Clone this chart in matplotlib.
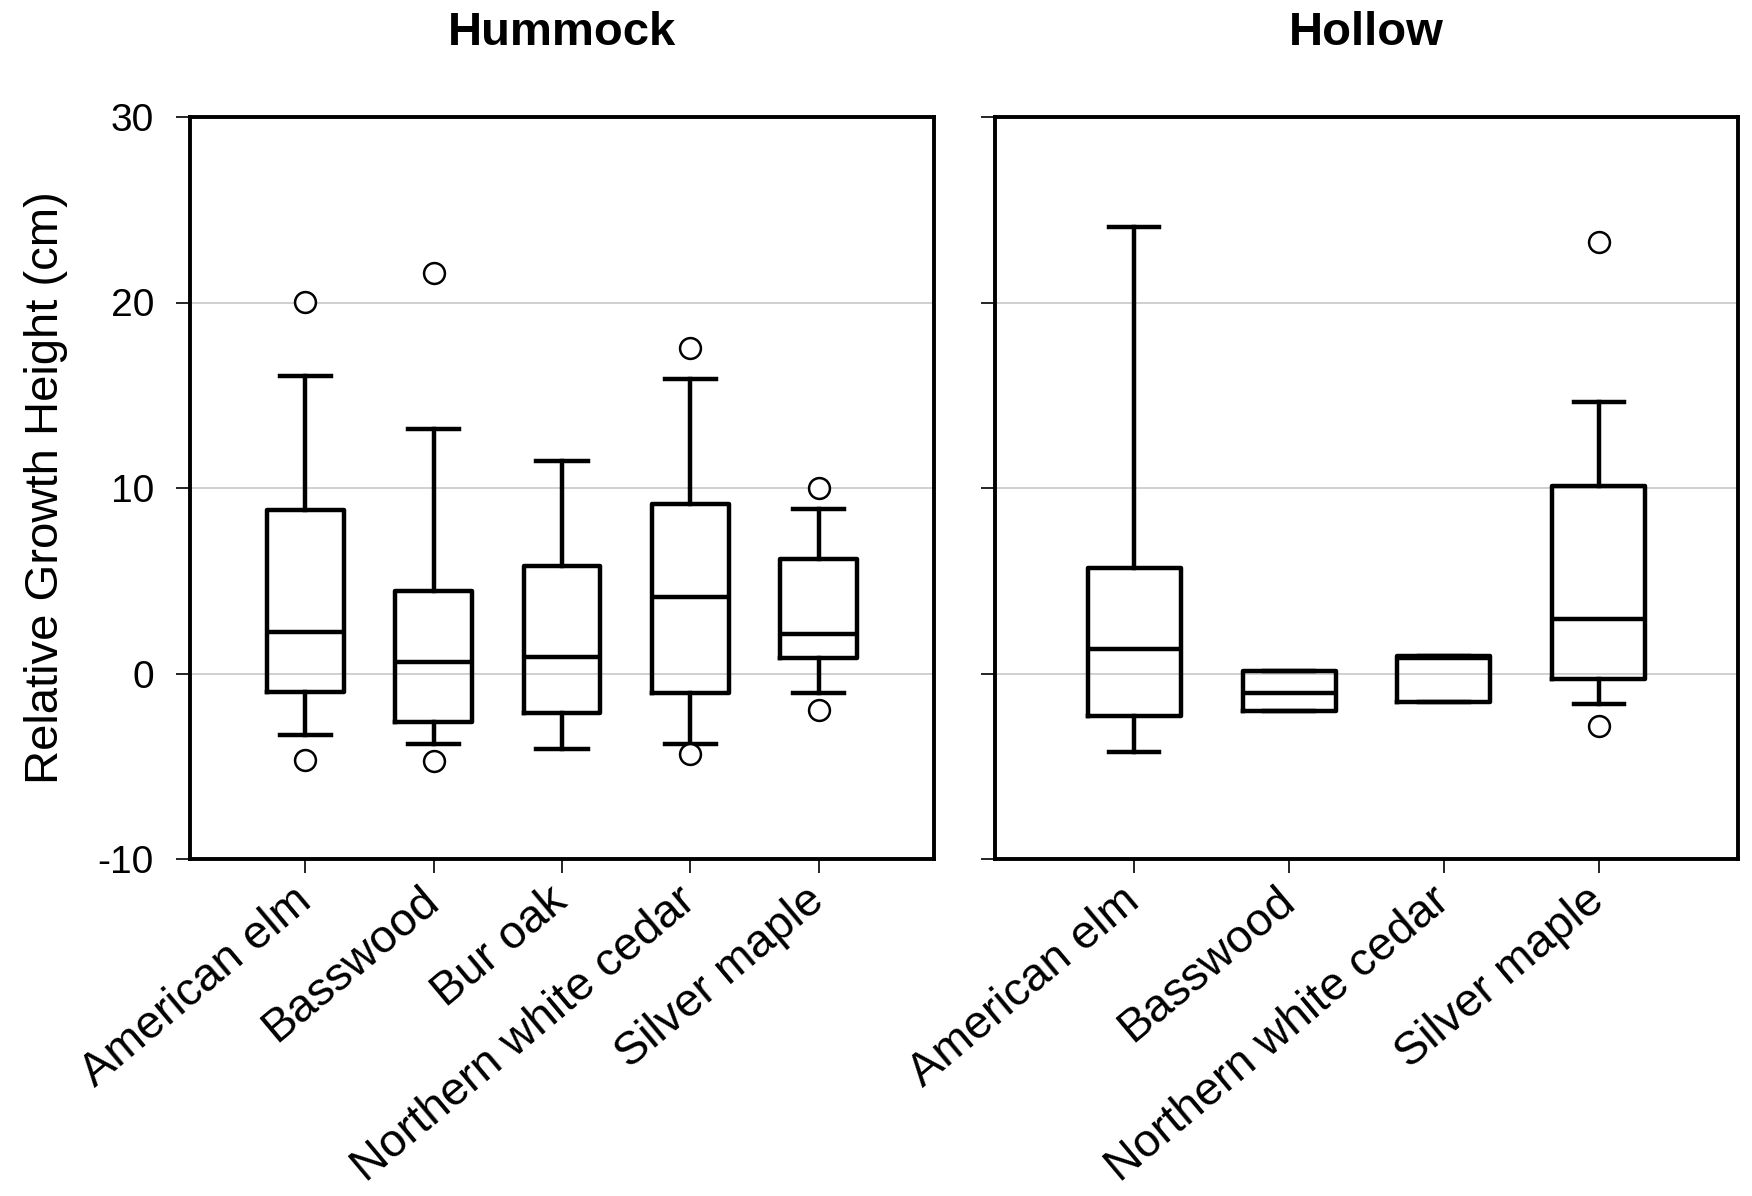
import matplotlib.pyplot as plt

plt.rcParams['font.family'] = ['Liberation Sans', 'DejaVu Sans']
plt.rcParams['axes.unicode_minus'] = False

# Hummock species
hum_species = ["American elm", "Basswood", "Bur oak", "Northern white cedar", "Silver maple"]
hum_whislo = [-3.3, -3.8, -4.05, -3.8, -1.07]
hum_q1 = [-1.02, -2.6, -2.15, -1.05, 0.83]
hum_med = [2.25, 0.64, 0.89, 4.13, 2.12]
hum_q3 = [8.83, 4.43, 5.8, 9.13, 6.15]
hum_whishi = [16.03, 13.18, 11.46, 15.87, 8.86]
hum_fliers = [[20.05, -4.64], [21.58, -4.72], [], [17.53, -4.32], [9.99, -1.99]]

# Hollow species
hol_species = ["American elm", "Basswood", "Northern white cedar", "Silver maple"]
hol_whislo = [-4.24, -2.04, -1.56, -1.66]
hol_q1 = [-2.31, -2.04, -1.56, -0.27]
hol_med = [1.32, -1.05, 0.82, 2.95]
hol_q3 = [5.69, 0.11, 0.97, 10.09]
hol_whishi = [24.05, 0.11, 0.97, 14.66]
hol_fliers = [[], [], [], [23.28, -2.82]]

yticks = [-10, 0, 10, 20, 30]


def make_stats(names, lo, q1, med, q3, hi, fl):
    return [dict(label=n, whislo=a, q1=b, med=c, q3=d, whishi=e, fliers=f)
            for n, a, b, c, d, e, f in zip(names, lo, q1, med, q3, hi, fl)]


fig = plt.figure(figsize=(8.76, 5.98), dpi=200)
ax1 = fig.add_axes([190/1752, 1-859/1196, 744/1752, 742/1196])
ax2 = fig.add_axes([995/1752, 1-859/1196, 743/1752, 742/1196])

line = dict(color='black', linewidth=1.6)
flier = dict(marker='o', markerfacecolor='white', markeredgecolor='black',
             markersize=7.5, markeredgewidth=0.9)

panels = [
    (ax1, "Hummock", make_stats(hum_species, hum_whislo, hum_q1, hum_med, hum_q3, hum_whishi, hum_fliers), 0.4),
    (ax2, "Hollow", make_stats(hol_species, hol_whislo, hol_q1, hol_med, hol_q3, hol_whishi, hol_fliers), 0.325),
]

for ax, title, stats, capw in panels:
    n = len(stats)
    pos = list(range(1, n + 1))
    ax.bxp(stats, positions=pos, widths=0.6, capwidths=capw,
           boxprops=line, whiskerprops=line, capprops=line,
           medianprops=line, flierprops=flier, zorder=3)
    ax.set_xlim(0.1, n - 0.1 + 1)
    ax.set_ylim(-10, 30)
    ax.set_yticks(yticks)
    ax.grid(axis='y', color='#c8c8c8', linewidth=0.6, zorder=0)
    ax.set_axisbelow(True)
    for s in ax.spines.values():
        s.set_linewidth(1.4)
    ax.tick_params(axis='both', direction='out', length=5, width=0.6,
                   labelsize=14, pad=8)
    ax.tick_params(axis='x', pad=8)
    ax.set_xticks(pos)
    ax.set_xticklabels([st['label'] for st in stats], rotation=40,
                       ha='right', va='center', rotation_mode='anchor',
                       fontsize=16.8)
    ax.set_title(title, fontsize=17, fontweight='bold', pad=26)

ax1.set_ylabel("Relative Growth Height (cm)", fontsize=17, labelpad=10.5)
ax2.tick_params(axis='y', labelleft=False)

fig.savefig("out.png", dpi=200)
